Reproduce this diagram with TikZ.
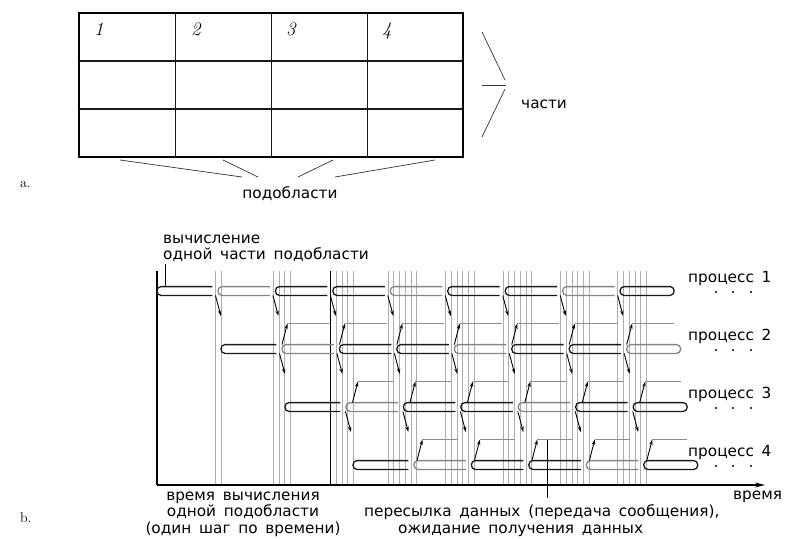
\documentclass[tikz,border=0pt]{standalone}
\usepackage{fontspec}
\newfontfamily\lblfont{DejaVu Sans}[WordSpace=1.6]
\usetikzlibrary{arrows.meta}
\tikzset{
  lbl/.style={font=\lblfont\fontsize{15.3}{17}\selectfont, inner sep=0pt},
  gridline/.style={line width=1.3pt, draw=black!90},
  digit/.style={font=\fontsize{19}{19}\selectfont\itshape, inner sep=0pt, anchor=base west},
  sub/.style={font=\fontsize{14}{14}\selectfont, inner sep=0pt, anchor=base west},
  brace/.style={line width=0.7pt, draw=black!80},
  vl/.style={line width=0.7pt, draw=black!32},
  tubeB/.style={line width=1.3pt, draw=black!90, rounded corners=4pt},
  tubeG/.style={line width=1.3pt, draw=black!48, rounded corners=4pt},
  darr/.style={line width=0.9pt, -{Stealth[length=5.5pt,width=3.4pt]}},
  msg/.style={line width=1pt, draw=black!45},
  axisline/.style={line width=1.4pt},
}
\begin{document}
\begin{tikzpicture}[x=1pt,y=-1pt]
\useasboundingbox (0,0) rectangle (786,538);
% ---------- part a ----------
\draw[line width=1.7pt] (79,13) rectangle (463,157);
\foreach \x in {175.5,271.5,367.5} \draw[gridline] (\x,13) -- (\x,157);
\foreach \y in {61,109} \draw[gridline] (79,\y) -- (463,\y);
\node[digit] (d1) at (94,35) {1};
\node[digit] (d2) at (191,35) {2};
\node[digit] (d3) at (286,35) {3};
\node[digit] (d4) at (382,35) {4};
\node[sub] (la) at (20,187) {a.};
\node[lbl, anchor=base] (sobl) at (290,198) {подобласти};
\coordinate (s1) at (242,177);
\coordinate (s2) at (258,177);
\coordinate (s3) at (298,177);
\coordinate (s4) at (335,177);
\draw[brace] (120,160) -- (s1);
\draw[brace] (223,160) -- (s2);
\draw[brace] (333,160) -- (s3);
\draw[brace] (435,160) -- (s4);
\node[lbl, anchor=base west] (chasti) at (521,108) {части};
\draw[brace] (482,32) -- (505,80);
\draw[brace] (482,85) -- (506,85);
\draw[brace] (505,89) -- (482,137);
% ---------- part b ----------
\node[sub] (lb) at (20,522) {b.};
% vertical event lines
\foreach \k/\m in {1/1,2/3,3/4,4/5,5/5,6/5,7/5,8/5} {
  \pgfmathsetmacro\c{158.2+57.45*\k}
  \foreach \j in {0,...,\m} \draw[vl] (\c+5.75*\j,271) -- (\c+5.75*\j,485);
}
\draw[line width=1.2pt] (157,271) -- (157,485);
\draw[line width=1.1pt] (330.5,271) -- (330.5,485);
\draw[axisline,-{Stealth[length=10pt,width=5pt]}] (157,485) -- (765,485);
% process tubes
\foreach \p/\y/\s/\n in {1/291/157/9, 2/349/221/8, 3/407/285/7, 4/465/353/6} {
  \foreach \k in {1,...,\n} {
    \pgfmathsetmacro\a{\s+(\k-1)*57.45 + (\k>1 ? 3.5 : 0)}
    \pgfmathsetmacro\b{\s+\k*57.45 - (\k<\n ? 2 : 0)}
    \pgfmathtruncatemacro\m{mod(\k,3)}
    \ifnum\m=2 \tikzset{cur/.style={tubeG}}\else\tikzset{cur/.style={tubeB}}\fi
    \ifnum\k=\n
      \draw[cur] (\a,\y-4.4) rectangle (\b,\y+4.4);
    \else
      \draw[cur] (\b,\y-4.4) -- (\a,\y-4.4) -- (\a,\y+4.4) -- (\b,\y+4.4);
    \fi
  }
}
% down arrows
\foreach \p/\y/\s/\n/\dd in {1/291/157/9/1, 2/349/221/8/1, 3/407/285/7/3} {
  \pgfmathtruncatemacro\nn{\n-1}
  \foreach \k in {1,...,\nn} {
    \pgfmathsetmacro\B{\s+\k*57.45+\dd}
    \draw[darr] (\B,\y+4.4) -- (\B+5.5,\y+25);
  }
}
% up arrows and waiting lines
\foreach \p/\y/\s/\n/\du/\sp in {2/349/221/8/3.5/157, 3/407/285/7/10/221, 4/465/353/6/6.5/285} {
  \pgfmathtruncatemacro\nn{\n-1}
  \foreach \k in {1,...,\nn} {
    \pgfmathsetmacro\B{\s+\k*57.45+\du}
    \pgfmathsetmacro\E{\sp+(\k+2)*57.45}
    \draw[msg] (\B+5.5,\y-25.5) -- (\E,\y-25.5);
    \draw[darr] (\B,\y-4.4) -- (\B+5.5,\y-25.5);
  }
}
% process labels
\foreach \p/\y in {1/291, 2/349, 3/407, 4/465} {
  \node[lbl, anchor=base west] (pr\p) at (688,\y-9) {процесс \p};
  \foreach \x in {716,733,751} \fill (\x,\y+1) circle (1.1pt);
}
% labels
\node[lbl, anchor=base west] (v1) at (163,243) {вычисление};
\node[lbl, anchor=base west] (v2) at (163,259.5) {одной части подобласти};
\coordinate (vtip) at (165,287);
\draw[line width=0.8pt] (165,264) -- (vtip);
\node[lbl, anchor=base] (t1) at (243,500) {время вычисления};
\node[lbl, anchor=base] (t2) at (243,516.5) {одной подобласти};
\node[lbl, anchor=base] (t3) at (243,533) {(один шаг по времени)};
\node[lbl, anchor=base west] (m1) at (364,516) {пересылка данных (передача сообщения),};
\node[lbl, anchor=base west] (m2) at (398,533) {ожидание получения данных};
\coordinate (mtip) at (547,439.5);
\draw[line width=0.8pt] (547,498) -- (mtip);
\node[lbl, anchor=base west] (vr) at (733,499) {время};
\end{tikzpicture}
\end{document}
